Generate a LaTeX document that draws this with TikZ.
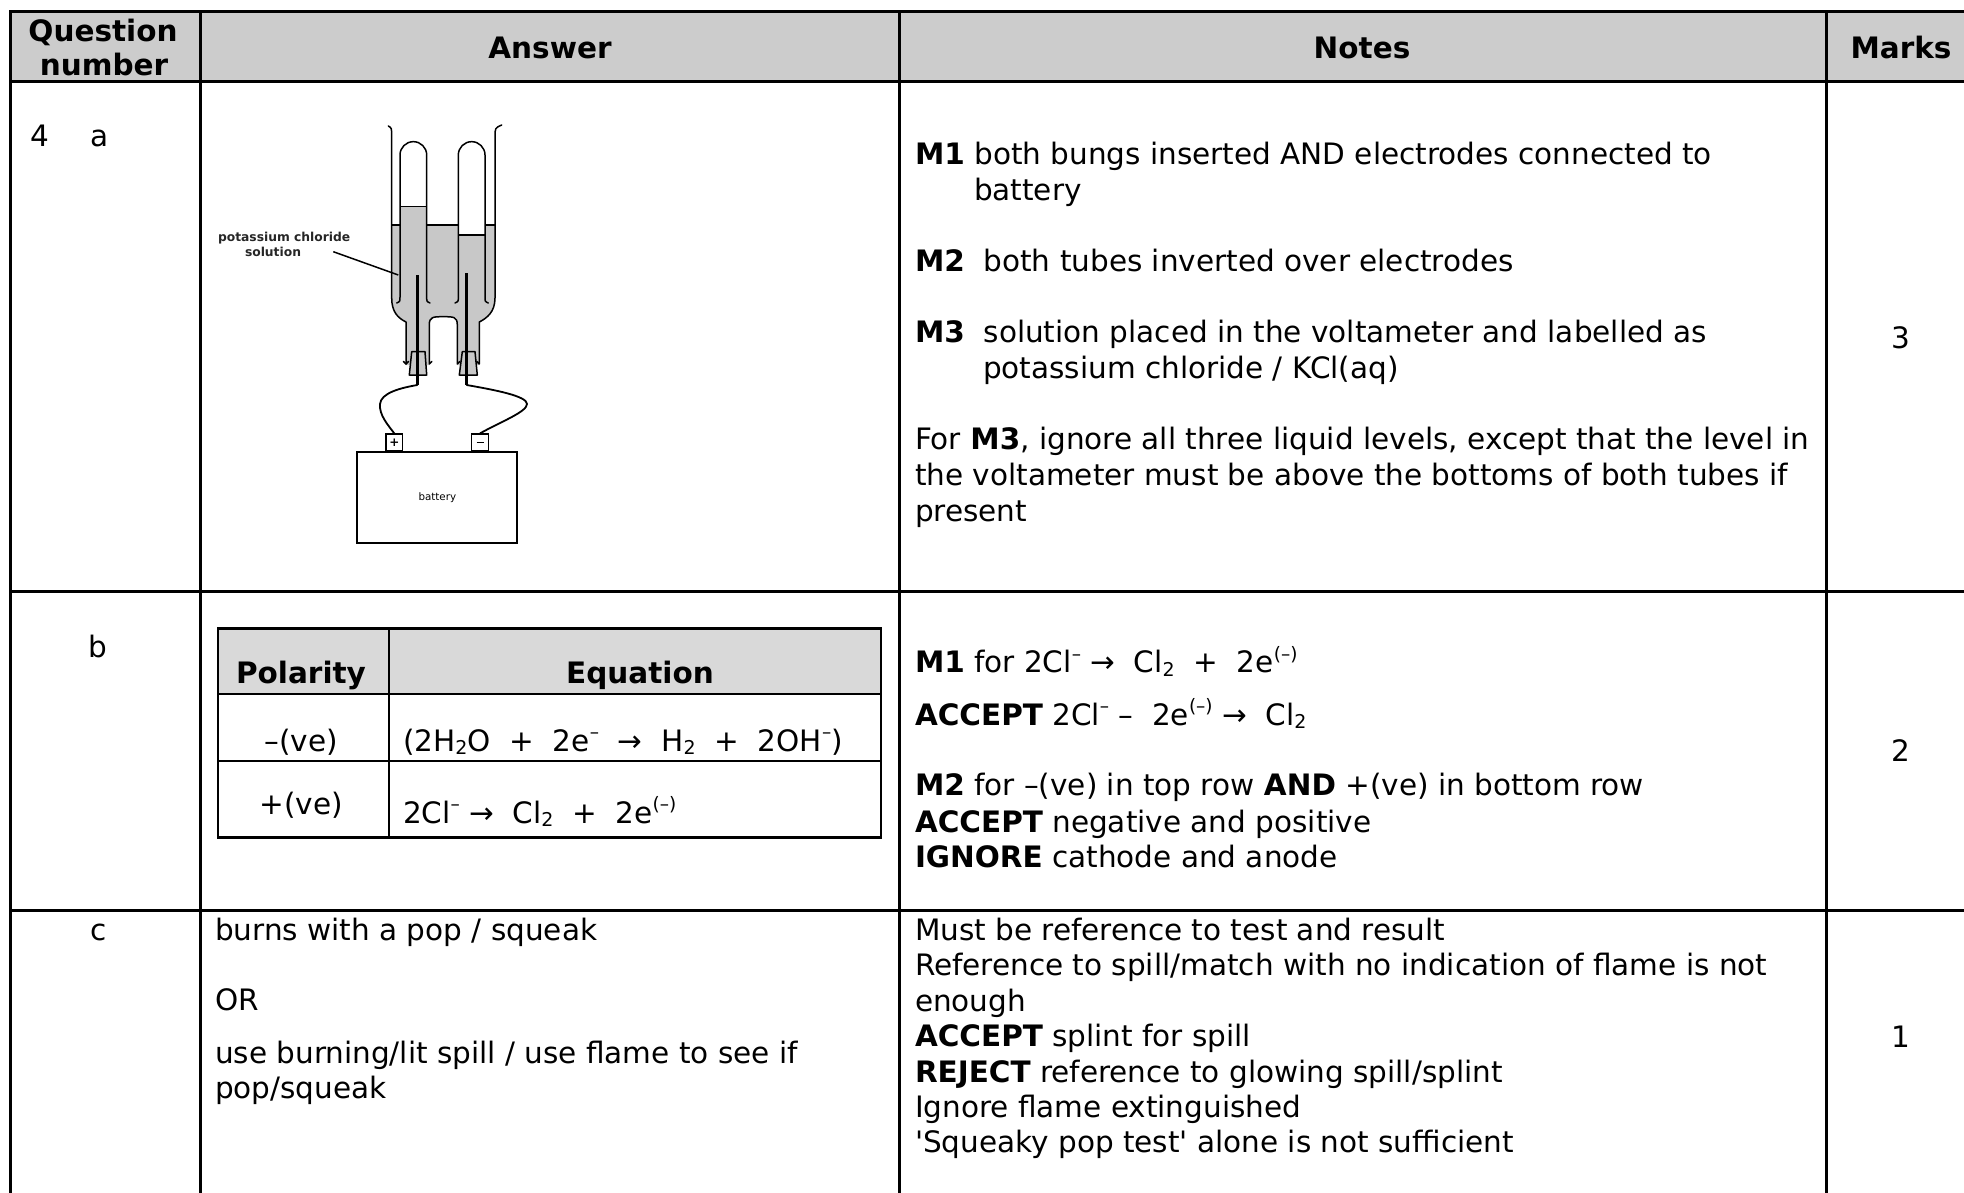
\documentclass[tikz,border=0pt]{standalone}
\usepackage{fontspec}
\setmainfont{DejaVu Sans}
\newfontfamily\plainff{DejaVu Sans}
\newcommand\bodyfs{\fontsize{29.5}{35.5}\selectfont}
\newcommand\labfs{\fontsize{12.3}{15}\selectfont\bfseries}
\newcommand\batfs{\fontsize{10.3}{12}\selectfont}
\newcommand\termfs{\fontsize{12}{12}\selectfont\bfseries}
\newcommand\sbs[1]{\raisebox{-0.13em}{\fontsize{19}{19}\selectfont #1}}
\newcommand\sps[1]{\raisebox{0.42em}{\fontsize{18.5}{18.5}\selectfont #1}}
\definecolor{hdrgray}{RGB}{204,204,204}
\definecolor{tblgray}{RGB}{217,217,217}
\definecolor{liquid}{RGB}{200,200,200}
\begin{document}
\begin{tikzpicture}[x=1pt,y=-1pt,
  txt/.style={inner sep=0pt, outer sep=0pt, anchor=base west, font=\bodyfs},
  btxt/.style={txt, font=\bodyfs\bfseries},
  ctxt/.style={txt, anchor=base},
  cbtxt/.style={btxt, anchor=base},
  gridline/.style={line width=3pt, line cap=rect},
  ptab/.style={line width=2.5pt, line cap=rect},
  glass/.style={line width=1.5pt, line cap=round, line join=round},
  lvl/.style={line width=1.3pt},
  elec/.style={line width=3.2pt},
  wire/.style={line width=1.8pt, line cap=round},
  term/.style={draw, line width=1.6pt, minimum width=16.7pt, minimum height=16.7pt, inner sep=0pt, font=\termfs},
  batbox/.style={draw, line width=1.8pt, minimum width=160pt, minimum height=91pt, inner sep=0pt, font=\batfs},
  lab/.style={inner sep=0pt, outer sep=0pt, anchor=base west, font=\labfs, text=black!85}]
\useasboundingbox (0,0) rectangle (1964,1192);
\fill[white] (0,0) rectangle (1964,1192);

% ---------- main table ----------
\fill[hdrgray] (10,11) rectangle (1964,81.7);
\draw[gridline] (10,11) -- (1966,11);
\draw[gridline] (10,81.7) -- (1966,81.7);
\draw[gridline] (10,591) -- (1966,591);
\draw[gridline] (10,910) -- (1966,910);
\foreach \xx in {10,200,899,1826} \draw[gridline] (\xx,11) -- (\xx,1195);

% header
\node[cbtxt] (hq1) at (103,41.7) {Question};
\node[cbtxt] (hq2) at (104,75.5) {number};
\node[cbtxt] (hans) at (550,58.5) {Answer};
\node[cbtxt] (hnotes) at (1362,58.5) {Notes};
\node[cbtxt] (hmarks) at (1901,58.5) {Marks};

% ---------- row a ----------
\node[txt] (qa4) at (30,146.7) {4};
\node[txt] (qaa) at (90,146.7) {a};

% apparatus: liquid
\fill[liquid] (391.7,225) -- (391.7,298) .. controls (391.7,312) and (398,318) .. (406,322) -- (406,365) -- (429.3,365) -- (429.3,325) .. controls (429.3,316.7) and (433,316.7) .. (443.3,316.7) .. controls (453.6,316.7) and (457.3,316.7) .. (457.3,325) -- (457.3,365) -- (479.3,365) -- (479.3,322) .. controls (487,318) and (495,312) .. (495,298) -- (495,225) -- cycle;
\fill[liquid] (400,206.7) rectangle (426.7,225);
\fill[white] (458.3,225) rectangle (485,235);

% walls
\draw[glass] (388.3,126) .. controls (391.7,128) .. (391.7,137) -- (391.7,298) .. controls (391.7,312) and (398,318) .. (406,322) -- (406,364) -- (408.5,361.5);
\draw[glass] (501.7,125) .. controls (495,128) .. (495,137) -- (495,298) .. controls (495,312) and (487,318) .. (479.3,322) -- (479.3,364) -- (476.8,361.5);
\draw[glass] (431.8,361.5) -- (429.3,364) -- (429.3,325) .. controls (429.3,316.7) and (433,316.7) .. (443.3,316.7) .. controls (453.6,316.7) and (457.3,316.7) .. (457.3,325) -- (457.3,364) -- (459.8,361.5);
\draw[glass] (403.5,361.5) -- (406,364);

% tubes
\draw[glass] (396.7,303) .. controls (400,301.5) .. (400,297) -- (400,155) arc[start angle=180,end angle=360,radius=13.35] -- (426.7,297) .. controls (426.7,301.5) .. (430,303);
\draw[glass] (455,303) .. controls (458.3,301.5) .. (458.3,297) -- (458.3,155) arc[start angle=180,end angle=360,radius=13.35] -- (485,297) .. controls (485,301.5) .. (488.3,303);

% liquid levels
\draw[lvl] (391.7,225) -- (400,225);
\draw[lvl] (426.7,225) -- (458.3,225);
\draw[lvl] (485,225) -- (495,225);
\draw[lvl] (400,206.7) -- (426.7,206.7);
\draw[lvl] (458.3,235) -- (485,235);

% bungs
\draw[glass, fill=liquid] (411.7,351.7) -- (425,351.7) -- (426.7,375) -- (409.3,375) -- cycle;
\draw[glass, fill=liquid] (462.3,351.7) -- (475,351.7) -- (477.3,375) -- (459.3,375) -- cycle;

% electrodes
\coordinate (eLtop) at (417.3,275);
\coordinate (eL) at (417.3,385);
\coordinate (eRtop) at (466.7,273);
\coordinate (eR) at (466.7,385);
\draw[elec] (eLtop) -- (eL);
\draw[elec] (eRtop) -- (eR);

% battery
\node[batbox] (bat) at (437.3,497.2) {battery};
\node[term, anchor=south] (tplus) at (394.3,451.7) {+};
\node[term, anchor=south] (tminus) at (480,451.7) {\raisebox{0.3pt}{\rule{7pt}{1.3pt}}};

% wires
\draw[wire] (eL) .. controls (400,388) and (381,393) .. (380,404) .. controls (379,415) and (388,425) .. (tplus.north);
\draw[wire] (eR) .. controls (495,390) and (527,396) .. (527,404) .. controls (527,412) and (500,422) .. (tminus.north);

% label
\node[lab] (labA) at (218,241.5) {potassium chloride};
\node[lab] (labB) at (245,256.7) {solution};
\coordinate (ptrA) at (333.3,251.7);
\coordinate (ptrB) at (398.3,275);
\draw[line width=1.5pt] (ptrA) -- (ptrB);

% notes a
\node[txt] (na1) at (915,164) {\textbf{M1} both bungs inserted AND electrodes connected to};
\node[txt] (na2) at (974,200) {battery};
\node[txt] (na3) at (915,271) {\textbf{M2}~~both tubes inverted over electrodes};
\node[txt] (na4) at (915,342) {\textbf{M3}~~solution placed in the voltameter and labelled as};
\node[txt] (na5) at (983,378) {potassium chloride / KCl(aq)};
\node[txt] (na6) at (915,449) {For \textbf{M3}, ignore all three liquid levels, except that the level in};
\node[txt] (na7) at (915,485) {the voltameter must be above the bottoms of both tubes if};
\node[txt] (na8) at (915,521) {present};
\node[ctxt] (ma) at (1901,348) {3};

% ---------- row b ----------
\node[ctxt] (qb) at (97.7,657) {b};

\fill[tblgray] (218,628.3) rectangle (881,694);
\draw[ptab] (218,628.3) rectangle (881,837.3);
\draw[ptab] (389,628.3) -- (389,837.3);
\draw[ptab] (218,694) -- (881,694);
\draw[ptab] (218,761) -- (881,761);
\node[cbtxt] (tpol) at (301,683) {Polarity};
\node[cbtxt] (teq) at (640,683) {Equation};
\node[ctxt] (tneg) at (301,751) {–(ve)};
\node[ctxt] (tpos) at (301,814) {+(ve)};
\node[txt] (teq1) at (403,751) {(2H\sbs{2}O~~+~~2e\sps{–}~~→~~H\sbs{2}~~+~~2OH\sps{–})};
\node[txt] (teq2) at (403,823) {2Cl\sps{–} →~~Cl\sbs{2}~~+~~2e\sps{(–)}};

\node[txt] (nb1) at (915,672.7) {\textbf{M1} for 2Cl\sps{–} →~~Cl\sbs{2}~~+~~2e\sps{(–)}};
\node[txt] (nb2) at (915,725) {\textbf{ACCEPT} 2Cl\sps{–} –~~2e\sps{(–)} →~~Cl\sbs{2}};
\node[txt] (nb3) at (915,795) {\textbf{M2} for –(ve) in top row \textbf{AND} +(ve) in bottom row};
\node[txt] (nb4) at (915,832) {\textbf{ACCEPT} negative and positive};
\node[txt] (nb5) at (915,867) {\textbf{IGNORE} cathode and anode};
\node[ctxt] (mb) at (1901,761) {2};

% ---------- row c ----------
\node[ctxt] (qc) at (99,940) {c};
\node[txt] (ac1) at (215,940) {burns with a pop / squeak};
\node[txt] (ac2) at (215,1010) {OR};
\node[txt] (ac3) at (215,1063) {use burning/lit spill / use flame to see if};
\node[txt] (ac4) at (215,1098) {pop/squeak};

\node[txt] (nc1) at (915,940) {Must be reference to test and result};
\node[txt] (nc2) at (915,975.5) {Reference to spill/match with no indication of flame is not};
\node[txt] (nc3) at (915,1011) {enough};
\node[txt] (nc4) at (915,1046) {\textbf{ACCEPT} splint for spill};
\node[txt] (nc5) at (915,1082) {\textbf{REJECT} reference to glowing spill/splint};
\node[txt] (nc6) at (915,1117) {Ignore flame extinguished};
\node[txt] (nc7) at (915,1152) {{\plainff 'Squeaky pop test' alone is not sufficient}};
\node[ctxt] (mc) at (1901,1047) {1};
\end{tikzpicture}
\end{document}
